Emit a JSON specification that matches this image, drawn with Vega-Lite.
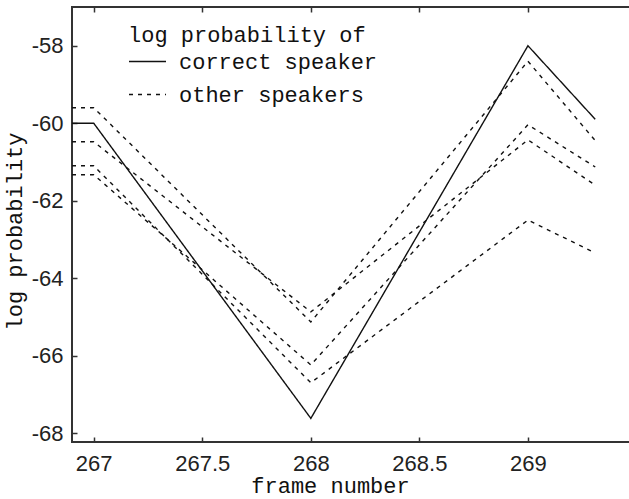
{
  "$schema": "https://vega.github.io/schema/vega-lite/v6.json",
  "autosize": {"type": "none"},
  "padding": {"left": 72, "top": 7, "right": 0, "bottom": 57},
  "width": 558,
  "height": 435,
  "background": "white",
  "config": {
    "view": {"stroke": "#333", "strokeWidth": 2},
    "axis": {
      "domain": false,
      "grid": false,
      "tickSize": 5,
      "offset": -5,
      "tickColor": "#333",
      "tickWidth": 1.5,
      "labelFont": "Liberation Sans",
      "labelFontSize": 22,
      "labelColor": "#222",
      "titleFont": "Liberation Mono",
      "titleFontSize": 22,
      "titleFontWeight": "normal",
      "titleColor": "#111"
    }
  },
  "data": {
    "values": [
      {"series": "correct", "type": "correct speaker", "frame": 266.9, "logp": -60.0},
      {"series": "correct", "type": "correct speaker", "frame": 267, "logp": -60.0},
      {"series": "correct", "type": "correct speaker", "frame": 268, "logp": -67.62},
      {"series": "correct", "type": "correct speaker", "frame": 269, "logp": -58.0},
      {"series": "correct", "type": "correct speaker", "frame": 269.31, "logp": -59.9},
      {"series": "o1", "type": "other speakers", "frame": 266.9, "logp": -59.6},
      {"series": "o1", "type": "other speakers", "frame": 267, "logp": -59.6},
      {"series": "o1", "type": "other speakers", "frame": 268, "logp": -65.13},
      {"series": "o1", "type": "other speakers", "frame": 269, "logp": -58.4},
      {"series": "o1", "type": "other speakers", "frame": 269.31, "logp": -60.45},
      {"series": "o2", "type": "other speakers", "frame": 266.9, "logp": -60.48},
      {"series": "o2", "type": "other speakers", "frame": 267, "logp": -60.48},
      {"series": "o2", "type": "other speakers", "frame": 268, "logp": -64.87},
      {"series": "o2", "type": "other speakers", "frame": 269, "logp": -60.43},
      {"series": "o2", "type": "other speakers", "frame": 269.31, "logp": -61.6},
      {"series": "o3", "type": "other speakers", "frame": 266.9, "logp": -61.33},
      {"series": "o3", "type": "other speakers", "frame": 267, "logp": -61.33},
      {"series": "o3", "type": "other speakers", "frame": 268, "logp": -66.24},
      {"series": "o3", "type": "other speakers", "frame": 269, "logp": -60.04},
      {"series": "o3", "type": "other speakers", "frame": 269.31, "logp": -61.13},
      {"series": "o4", "type": "other speakers", "frame": 266.9, "logp": -61.1},
      {"series": "o4", "type": "other speakers", "frame": 267, "logp": -61.1},
      {"series": "o4", "type": "other speakers", "frame": 268, "logp": -66.7},
      {"series": "o4", "type": "other speakers", "frame": 269, "logp": -62.5},
      {"series": "o4", "type": "other speakers", "frame": 269.31, "logp": -63.35}
    ]
  },
  "layer": [
    {
      "mark": {"type": "line", "color": "#111", "strokeWidth": 1.4, "clip": true},
      "encoding": {
        "x": {
          "field": "frame",
          "type": "quantitative",
          "scale": {"domain": [266.9, 269.47], "nice": false, "zero": false},
          "axis": {
            "orient": "bottom",
            "values": [267, 267.5, 268, 268.5, 269],
            "labelExpr": "'' + datum.value",
            "labelPadding": 11,
            "title": "frame number",
            "titleX": 258,
            "titleY": 55,
            "titleBaseline": "alphabetic"
          }
        },
        "y": {
          "field": "logp",
          "type": "quantitative",
          "scale": {"domain": [-68.23, -57], "nice": false, "zero": false},
          "axis": {
            "values": [-68, -66, -64, -62, -60, -58],
            "labelExpr": "'' + datum.value",
            "labelPadding": 9,
            "title": "log probability",
            "titleX": -56,
            "titleY": 224,
            "titleBaseline": "alphabetic"
          }
        },
        "strokeDash": {
          "field": "type",
          "type": "nominal",
          "scale": {"domain": ["correct speaker", "other speakers"], "range": [[1, 0], [4, 5]]},
          "legend": {
            "orient": "none",
            "legendX": 56,
            "legendY": 18,
            "title": "log probability of",
            "titleFont": "Liberation Mono",
            "titleFontSize": 22,
            "titleFontWeight": "normal",
            "titleColor": "#111",
            "titleLimit": 500,
            "titlePadding": -5,
            "labelFont": "Liberation Mono",
            "labelFontSize": 22,
            "labelColor": "#111",
            "labelOffset": 12,
            "labelLimit": 400,
            "symbolType": "stroke",
            "symbolSize": 1369,
            "symbolStrokeColor": "#111",
            "symbolStrokeWidth": 1.4,
            "rowPadding": 2,
            "padding": 0
          }
        },
        "detail": {"field": "series"}
      }
    },
    {
      "mark": {"type": "line", "strokeOpacity": 0},
      "encoding": {
        "x": {
          "field": "frame",
          "type": "quantitative",
          "axis": {
            "orient": "top",
            "values": [267, 267.5, 268, 268.5, 269],
            "labels": false,
            "title": null
          }
        },
        "y": {
          "field": "logp",
          "type": "quantitative",
          "axis": {
            "values": [-68, -66, -64, -62, -60, -58],
            "labelExpr": "'' + datum.value",
            "labelPadding": 9,
            "title": "log probability",
            "titleX": -56,
            "titleY": 224,
            "titleBaseline": "alphabetic"
          }
        },
        "detail": {"field": "series"}
      }
    }
  ],
  "resolve": {"axis": {"x": "independent"}}
}
